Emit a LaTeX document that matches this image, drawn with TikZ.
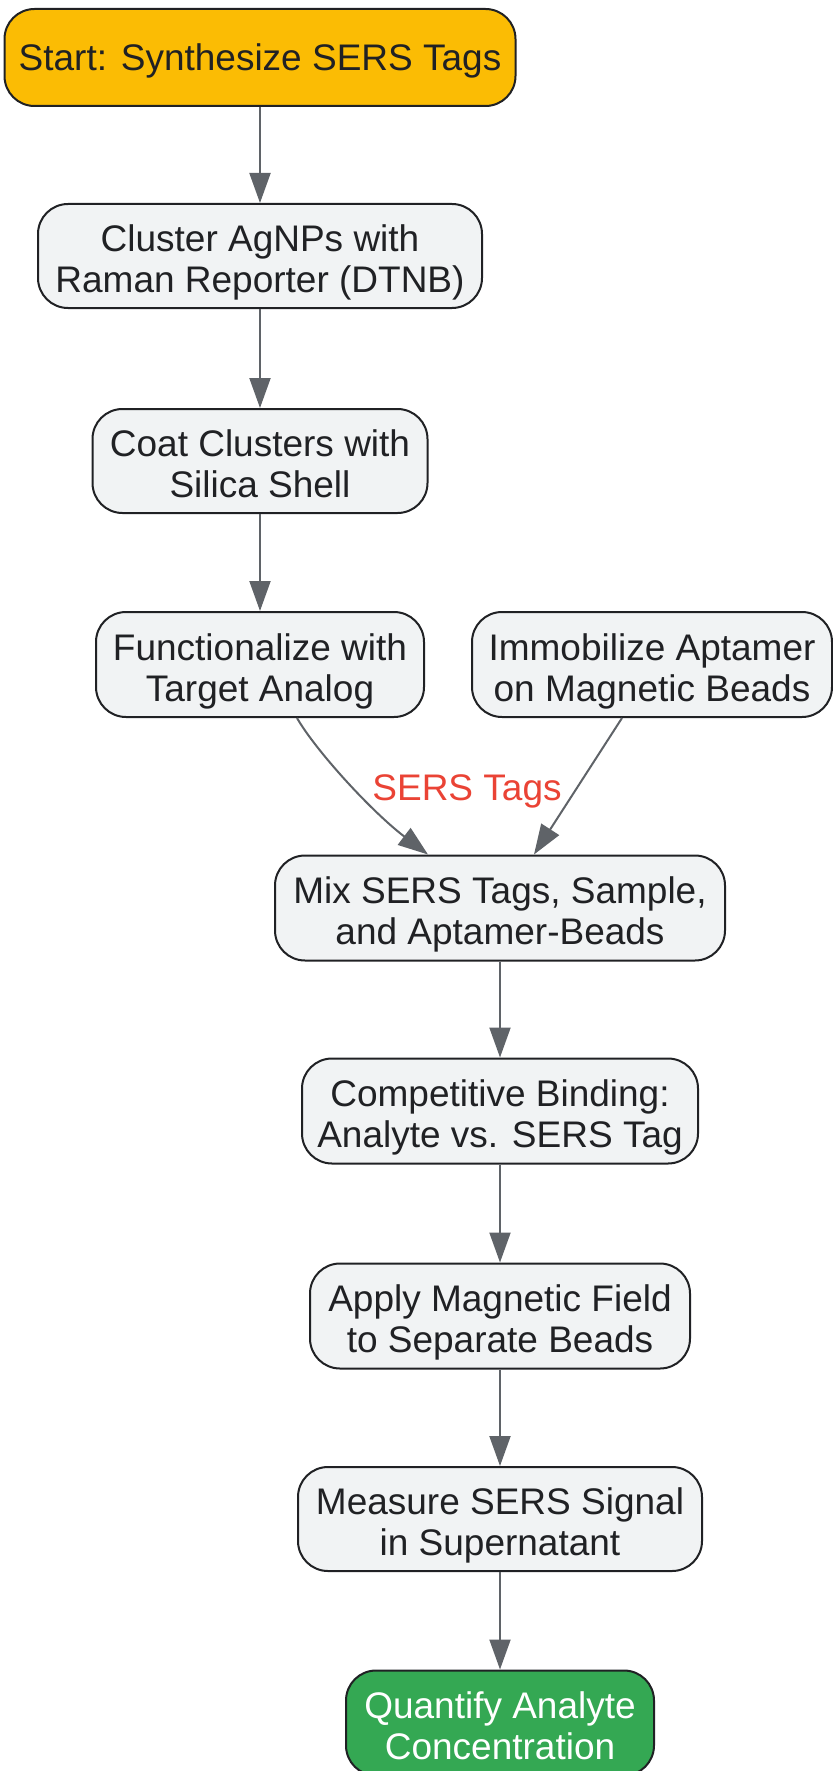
\documentclass[tikz,border=0pt]{standalone}
\usepackage{fontspec}
\setmainfont{Liberation Sans}
\usetikzlibrary{arrows.meta}
\definecolor{nodefill}{HTML}{F1F3F4}
\definecolor{nodeline}{HTML}{202124}
\definecolor{startfill}{HTML}{FBBC04}
\definecolor{endfill}{HTML}{34A853}
\definecolor{arrowcol}{HTML}{5F6368}
\definecolor{labelred}{HTML}{EA4335}
\newcommand\mytopstrut{\rule{0pt}{33.5pt}}
\newcommand\mytopstrutm{\rule{0pt}{40.3pt}}
\newcommand\mybotstrut{\rule[-7.8pt]{0pt}{0pt}}
\begin{document}
\begin{tikzpicture}[x=1pt,y=-1pt,
  box/.style={draw=nodeline, line width=2pt, fill=nodefill, rounded corners=30pt,
    align=center, inner sep=0pt, text=nodeline,
    font=\fontsize{37pt}{40.6pt}\selectfont, minimum height=104pt},
  flow/.style={draw=arrowcol, line width=2pt, -{Triangle[length=30pt,width=21pt]}}]
\useasboundingbox (0,0) rectangle (832,1771);
\node[box, fill=startfill, minimum width=511pt, minimum height=97pt] (start) at (260,57.5) {\mytopstrut Start: Synthesize SERS Tags\mybotstrut};
\node[box, minimum width=444pt] (cluster) at (260,256) {\mytopstrutm Cluster AgNPs with\\Raman Reporter (DTNB)\mybotstrut};
\node[box, minimum width=335pt] (coat) at (260,461) {\mytopstrutm Coat Clusters with\\Silica Shell\mybotstrut};
\node[box, minimum width=328pt, minimum height=105pt] (func) at (260,664.5) {\mytopstrutm Functionalize with\\Target Analog\mybotstrut};
\node[box, minimum width=360pt, minimum height=105pt] (immob) at (652,664.5) {\mytopstrutm Immobilize Aptamer\\on Magnetic Beads\mybotstrut};
\node[box, minimum width=450pt, minimum height=105pt] (mix) at (500,908) {\mytopstrutm Mix SERS Tags, Sample,\\and Aptamer-Beads\mybotstrut};
\node[box, minimum width=396pt, minimum height=105pt] (comp) at (500,1111) {\mytopstrutm Competitive Binding:\\Analyte vs. SERS Tag\mybotstrut};
\node[box, minimum width=380pt, minimum height=105pt] (apply) at (500,1316) {\mytopstrutm Apply Magnetic Field\\to Separate Beads\mybotstrut};
\node[box, minimum width=404pt] (meas) at (500,1519) {\mytopstrutm Measure SERS Signal\\in Supernatant\mybotstrut};
\node[box, fill=endfill, text=white, minimum width=308pt, minimum height=105pt] (quant) at (500,1723) {\mytopstrutm Quantify Analyte\\Concentration\mybotstrut};

\draw[flow] (start) -- (cluster);
\draw[flow] (cluster) -- (coat);
\draw[flow] (coat) -- (func);
\draw[flow] ([xshift=37pt]func.south) .. controls (316,751) and (372,812) .. ([xshift=-72pt]mix.north);
\draw[flow] ([xshift=-30pt]immob.south) -- ([xshift=34pt]mix.north);
\node[text=labelred, font=\fontsize{37pt}{40.6pt}\selectfont, inner sep=0pt] (lbl) at (467,788) {\mytopstrut SERS Tags\mybotstrut};
\draw[flow] (mix) -- (comp);
\draw[flow] (comp) -- (apply);
\draw[flow] (apply) -- (meas);
\draw[flow] (meas) -- (quant);
\end{tikzpicture}
\end{document}
